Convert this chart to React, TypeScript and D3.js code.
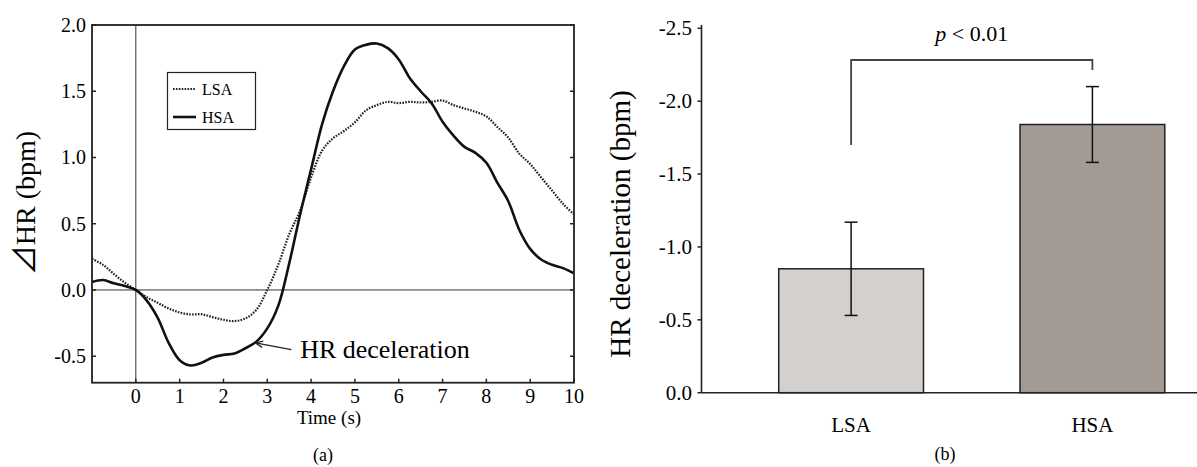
import React from "react";
import * as d3 from "d3";

// ---- panel (a): mean HR change after stimulus onset ----
const times = [
  -1, -0.75, -0.5, -0.25, 0, 0.25, 0.5, 0.75, 1, 1.25, 1.5, 1.75, 2, 2.25, 2.5, 2.75,
  3, 3.25, 3.5, 3.75, 4, 4.25, 4.5, 4.75, 5, 5.25, 5.5, 5.75, 6, 6.25, 6.5, 6.75,
  7, 7.25, 7.5, 7.75, 8, 8.25, 8.5, 8.75, 9, 9.25, 9.5, 9.75, 10,
];
const lsaValues = [
  0.235, 0.19, 0.12, 0.055, 0, -0.055, -0.097, -0.14, -0.17, -0.185, -0.183, -0.205, -0.225, -0.235, -0.215, -0.15,
  0.0, 0.19, 0.42, 0.6, 0.85, 1.05, 1.145, 1.2, 1.265, 1.355, 1.395, 1.42, 1.41, 1.42, 1.415, 1.42,
  1.43, 1.395, 1.37, 1.345, 1.31, 1.23, 1.15, 1.03, 0.95, 0.85, 0.75, 0.65, 0.57,
];
const hsaValues = [
  0.06, 0.075, 0.05, 0.03, 0, -0.08, -0.21, -0.4, -0.53, -0.57, -0.55, -0.51, -0.49, -0.48, -0.44, -0.39,
  -0.29, -0.12, 0.2, 0.57, 0.91, 1.25, 1.5, 1.69, 1.815, 1.85, 1.86, 1.825, 1.74, 1.6, 1.5, 1.41,
  1.27, 1.165, 1.08, 1.035, 0.96, 0.81, 0.67, 0.455, 0.31, 0.23, 0.19, 0.165, 0.125,
];
const timeTicks = [0, 1, 2, 3, 4, 5, 6, 7, 8, 9, 10];
const dhrTicks = [-0.5, 0, 0.5, 1, 1.5, 2];

// ---- panel (b): HR deceleration by group ----
const groups = ["LSA", "HSA"];
const decelMeans = [-0.85, -1.84];
const decelErrors = [0.32, 0.26];
const groupColors = ["#d4d0cd", "#a39a94"];
const decelTicks = [0, -0.5, -1, -1.5, -2, -2.5];

const FONT = "'Liberation Serif', 'Times New Roman', serif";
const fmt = (v: number) => v.toFixed(1);

export default function App() {
  // left panel scales
  const x = d3.scaleLinear().domain([-1, 10]).range([92, 574]);
  const y = d3.scaleLinear().domain([-0.7, 2.0]).range([382.7, 25]);

  const line = d3
    .line<number>()
    .x((_, i) => x(times[i]))
    .y((d) => y(d))
    .curve(d3.curveCatmullRom);

  // right panel scales
  const xb = d3.scaleBand<string>().domain(groups).range([701.5, 1242]).paddingInner(0.4).paddingOuter(0.32);
  const yb = d3.scaleLinear().domain([0, -2.5]).range([392.7, 28.3]);

  const [x0, x1] = x.range();
  const [yBot, yTop] = y.range();

  // annotation arrow pointing to the HSA dip
  const tip = { x: x(2.73), y: y(-0.4) };
  const tail = { x: x(3.55), y: y(-0.45) };
  const ang = Math.atan2(tail.y - tip.y, tail.x - tip.x);
  const head = (a: number) => `${tip.x + 8 * Math.cos(ang + a)},${tip.y + 8 * Math.sin(ang + a)}`;

  const c0 = xb("LSA")! + xb.bandwidth() / 2;
  const c1 = xb("HSA")! + xb.bandwidth() / 2;
  const bracketY = 60;

  return (
    <svg
      width={1197}
      height={467}
      style={{ position: "absolute", left: 0, top: 0, background: "#fff" }}
      fontFamily={FONT}
    >
      {/* ===== panel (a) ===== */}
      <g>
        {/* zero lines */}
        <line x1={x0} x2={x1} y1={y(0)} y2={y(0)} stroke="#333" strokeWidth={1} />
        <line x1={x(0)} x2={x(0)} y1={yBot} y2={yTop} stroke="#333" strokeWidth={1} />

        <path d={line(lsaValues)!} fill="none" stroke="#222" strokeWidth={2.2} strokeDasharray="1.6 1.3" />
        <path d={line(hsaValues)!} fill="none" stroke="#111" strokeWidth={2.6} />

        {/* frame */}
        <rect x={x0} y={yTop} width={x1 - x0} height={yBot - yTop} fill="none" stroke="#222" strokeWidth={1.8} />

        {/* ticks (inward) */}
        {dhrTicks.map((t) => (
          <g key={t}>
            <line x1={x0} x2={x0 + 4} y1={y(t)} y2={y(t)} stroke="#222" strokeWidth={1.5} />
            <line x1={x1} x2={x1 - 4} y1={y(t)} y2={y(t)} stroke="#222" strokeWidth={1.5} />
            <text x={x0 - 6} y={y(t)} dy="0.34em" textAnchor="end" fontSize={20}>
              {fmt(t)}
            </text>
          </g>
        ))}
        {timeTicks.map((t) => (
          <g key={t}>
            <line x1={x(t)} x2={x(t)} y1={yBot} y2={yBot - 4} stroke="#222" strokeWidth={1.5} />
            <text x={x(t)} y={403} textAnchor="middle" fontSize={20}>
              {t}
            </text>
          </g>
        ))}
        <text x={329} y={424} textAnchor="middle" fontSize={19}>
          Time (s)
        </text>
        <text x={25} y={203} textAnchor="middle" dy="0.35em" fontSize={28} transform="rotate(-90 25 203)">
          <tspan fontFamily="'Noto Sans CJK JP', 'DejaVu Sans', sans-serif" fontSize={30}>⊿</tspan>HR (bpm)
        </text>
        <text x={323} y={461} textAnchor="middle" fontSize={18}>
          (a)
        </text>

        {/* legend */}
        <rect x={167.5} y={72.5} width={88} height={57} fill="#fff" stroke="#222" strokeWidth={1.2} />
        <line x1={173} x2={196} y1={89} y2={89} stroke="#222" strokeWidth={2.2} strokeDasharray="1.6 1.3" />
        <text x={202} y={89} dy="0.35em" fontSize={16}>
          LSA
        </text>
        <line x1={173} x2={196} y1={117} y2={117} stroke="#111" strokeWidth={2.6} />
        <text x={202} y={117} dy="0.35em" fontSize={16}>
          HSA
        </text>

        {/* annotation */}
        <line x1={tail.x} y1={tail.y} x2={tip.x} y2={tip.y} stroke="#222" strokeWidth={1.3} />
        <polyline points={`${head(0.4)} ${tip.x},${tip.y} ${head(-0.4)}`} fill="none" stroke="#222" strokeWidth={1.3} />
        <text x={x(3.75)} y={y(-0.515)} fontSize={26}>
          HR deceleration
        </text>
      </g>

      {/* ===== panel (b) ===== */}
      <g>
        {groups.map((g, i) => (
          <rect
            key={g}
            x={xb(g)}
            y={yb(decelMeans[i])}
            width={xb.bandwidth()}
            height={yb(0) - yb(decelMeans[i])}
            fill={groupColors[i]}
            stroke="#222"
            strokeWidth={1.5}
          />
        ))}
        {groups.map((g, i) => {
          const cx = xb(g)! + xb.bandwidth() / 2;
          const lo = yb(decelMeans[i] + decelErrors[i]);
          const hi = yb(decelMeans[i] - decelErrors[i]);
          return (
            <g key={g} stroke="#111" strokeWidth={1.5}>
              <line x1={cx} x2={cx} y1={lo} y2={hi} />
              <line x1={cx - 6.5} x2={cx + 6.5} y1={lo} y2={lo} />
              <line x1={cx - 6.5} x2={cx + 6.5} y1={hi} y2={hi} />
            </g>
          );
        })}

        {/* axes */}
        <line x1={701.5} x2={1197} y1={yb(0)} y2={yb(0)} stroke="#222" strokeWidth={1.6} />
        <line x1={701.5} x2={701.5} y1={yb(0)} y2={25} stroke="#222" strokeWidth={1.6} />
        {decelTicks.map((t) => (
          <g key={t}>
            <line x1={701.5} x2={697.5} y1={yb(t)} y2={yb(t)} stroke="#222" strokeWidth={1.5} />
            <text x={692} y={yb(t)} dy="0.34em" textAnchor="end" fontSize={21}>
              {fmt(t)}
            </text>
          </g>
        ))}
        {groups.map((g) => (
          <text key={g} x={xb(g)! + xb.bandwidth() / 2} y={432} textAnchor="middle" fontSize={21}>
            {g}
          </text>
        ))}
        <text x={620} y={224} textAnchor="middle" dy="0.35em" fontSize={29} transform="rotate(-90 620 224)">
          HR deceleration (bpm)
        </text>
        <text x={945} y={460} textAnchor="middle" fontSize={18}>
          (b)
        </text>

        {/* significance bracket */}
        <polyline
          points={`${c0},${145} ${c0},${bracketY} ${c1},${bracketY} ${c1},${70}`}
          fill="none"
          stroke="#444"
          strokeWidth={1.8}
        />
        <text x={(c0 + c1) / 2} y={41} textAnchor="middle" fontSize={22}>
          <tspan fontStyle="italic">p</tspan> &lt; 0.01
        </text>
      </g>
    </svg>
  );
}
